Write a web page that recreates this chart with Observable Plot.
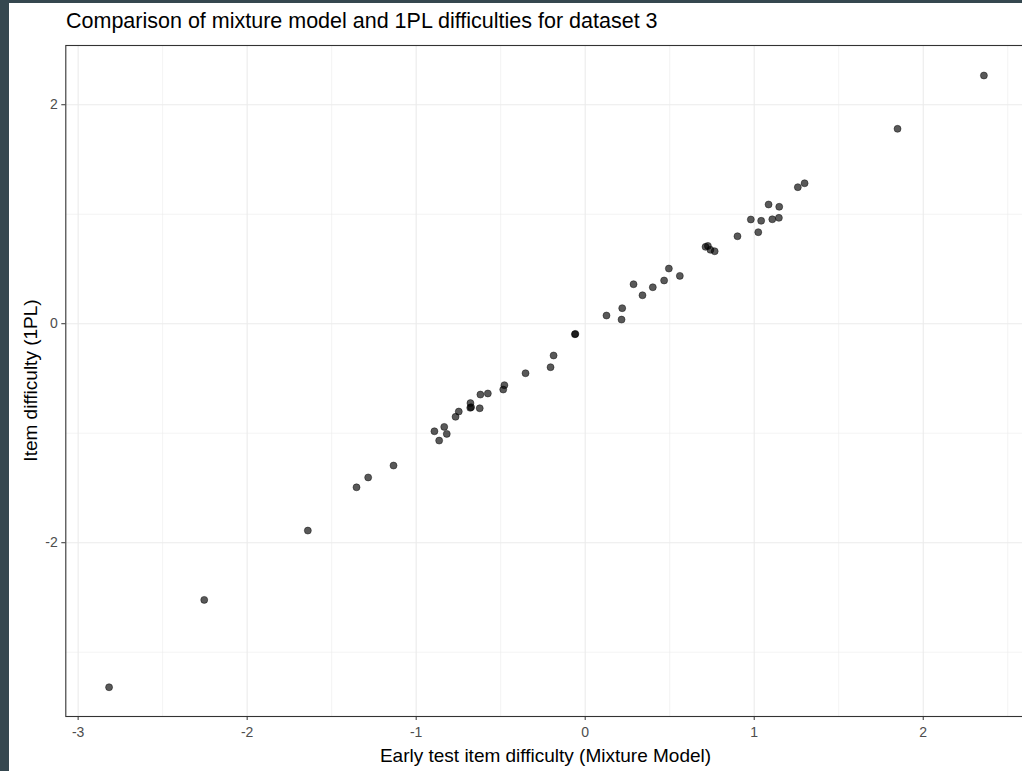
<!DOCTYPE html>
<html><head><meta charset="utf-8">
<script src="https://cdn.jsdelivr.net/npm/d3@7"></script>
<script src="https://cdn.jsdelivr.net/npm/@observablehq/plot@0.6"></script>
<style>
html,body{margin:0;padding:0;background:#35474f;overflow:hidden;width:1022px;height:771px;}
#wrap{position:absolute;left:9px;top:3px;width:1013px;height:768px;background:#fff;overflow:hidden;font-family:"Liberation Sans",Arial,sans-serif;}
#chart{position:absolute;left:0;top:0;width:1030px;height:768px;}
#chart svg{max-width:none !important;width:1030px;height:768px;}
.lbl{position:absolute;white-space:nowrap;color:#000;}
#title{left:57px;top:7.5px;font-size:21.5px;line-height:21.5px;}
#xtitle{left:536.5px;top:743px;font-size:19px;line-height:19px;transform:translateX(-50%);}
#ytitle{left:0;top:0;font-size:19px;line-height:19px;transform-origin:0 0;transform:translate(28px,377.5px) rotate(-90deg) translate(-50%,-16.1px);}
</style>
</head><body>
<div id="wrap">
  <div id="chart"></div>
  <div class="lbl" id="title">Comparison of mixture model and 1PL difficulties for dataset 3</div>
  <div class="lbl" id="xtitle">Early test item difficulty (Mixture Model)</div>
  <div class="lbl" id="ytitle">Item difficulty (1PL)</div>
</div>
<script>
// Data
const mixtureDifficulty = [
  -2.817, -2.254, -1.641, -1.353, -1.284, -1.134, -0.892, -0.864, -0.834, -0.819,
  -0.767, -0.748, -0.679, -0.680, -0.675, -0.624, -0.620, -0.576, -0.485, -0.478,
  -0.353, -0.205, -0.187, -0.061, -0.058, 0.126, 0.215, 0.219, 0.286, 0.339,
  0.400, 0.467, 0.495, 0.560, 0.712, 0.726, 0.741, 0.766, 0.901, 0.980,
  1.024, 1.041, 1.085, 1.107, 1.148, 1.146, 1.258, 1.298, 1.848, 2.359
];
const onePLDifficulty = [
  -3.320, -2.522, -1.889, -1.494, -1.404, -1.295, -0.982, -1.067, -0.942, -1.006,
  -0.850, -0.802, -0.725, -0.768, -0.762, -0.772, -0.647, -0.637, -0.601, -0.561,
  -0.452, -0.397, -0.290, -0.096, -0.093, 0.075, 0.038, 0.142, 0.361, 0.260,
  0.333, 0.395, 0.504, 0.437, 0.702, 0.711, 0.675, 0.662, 0.799, 0.952,
  0.836, 0.940, 1.089, 0.954, 1.068, 0.967, 1.247, 1.283, 1.780, 2.267
];
const xTicks = [-3, -2, -1, 0, 1, 2];
const xMinor = [-2.5, -1.5, -0.5, 0.5, 1.5, 2.5];
const yTicks = [-2, 0, 2];
const yMinor = [-3, -1, 1];

const points = mixtureDifficulty.map((x, i) => ({x, y: onePLDifficulty[i]}));

const chart = Plot.plot({
  width: 1030,
  height: 768,
  marginLeft: 56.3,
  marginRight: 13,
  marginTop: 42,
  marginBottom: 55,
  x: {domain: [-3.073, 2.611]},
  y: {domain: [-3.587, 2.541]},
  style: {fontFamily: "'Liberation Sans', Arial, sans-serif", background: "transparent", overflow: "visible"},
  marks: [
    Plot.ruleX(xMinor, {stroke: "#ebebeb", strokeWidth: 0.6}),
    Plot.ruleY(yMinor, {stroke: "#ebebeb", strokeWidth: 0.6}),
    Plot.ruleX(xTicks, {stroke: "#ebebeb", strokeWidth: 1.1}),
    Plot.ruleY(yTicks, {stroke: "#ebebeb", strokeWidth: 1.1}),
    Plot.dot(points, {x: "x", y: "y", r: 3.5, fill: "black", fillOpacity: 0.65, stroke: "black", strokeOpacity: 0.55, strokeWidth: 0.8}),
    Plot.frame({stroke: "#333333", strokeWidth: 1.1}),
    Plot.axisX(xTicks, {tickSize: 4, tickPadding: 7, fontSize: 14, stroke: "#333333", fill: "#4d4d4d", label: null, tickFormat: d => String(d)}),
    Plot.axisY(yTicks, {tickSize: 4, tickPadding: 4, fontSize: 14, stroke: "#333333", fill: "#4d4d4d", label: null, tickFormat: d => String(d)})
  ]
});
document.getElementById("chart").appendChild(chart);
</script>
</body></html>
